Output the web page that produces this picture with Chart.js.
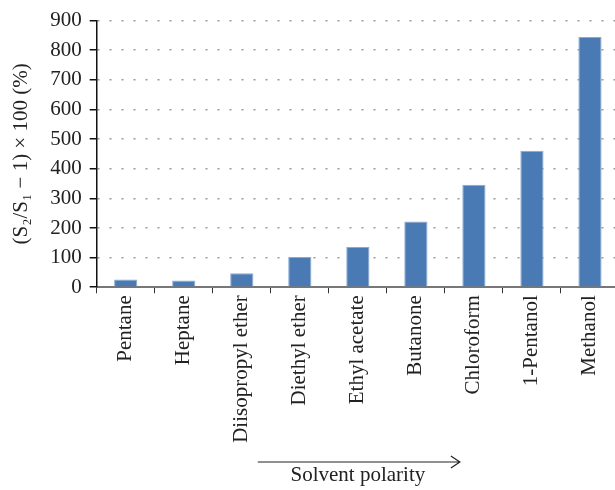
<!DOCTYPE html>
<html>
<head>
<meta charset="utf-8">
<script src="https://cdn.jsdelivr.net/npm/chart.js@4.4.0/dist/chart.umd.min.js"></script>
<style>
    html, body { margin: 0; padding: 0; background: #fff; overflow: hidden; }
    #wrap { width: 619px; height: 490px; position: relative; }
</style>
</head>
<body>
<div id="wrap"><canvas id="barChart"></canvas></div>
<script>
// 数据
const solvents = ['Pentane', 'Heptane', 'Diisopropyl ether', 'Diethyl ether', 'Ethyl acetate',
    'Butanone', 'Chloroform', '1-Pentanol', 'Methanol'];
const increase = [26, 23, 47, 102, 136, 222, 346, 461, 845];
const yTicks = [0, 100, 200, 300, 400, 500, 600, 700, 800, 900];

const serif = '"Liberation Serif", "DejaVu Serif", serif';

// 底部的箭头 (Solvent polarity)
const arrowPlugin = {
    id: 'polarityArrow',
    afterDraw(chart) {
        const ctx = chart.ctx;
        const xs = chart.scales.x;
        const y = chart.height - 28;
        const x1 = xs.getPixelForValue(2) + 16;
        const x2 = xs.getPixelForValue(5) + 44;
        ctx.save();
        ctx.strokeStyle = '#222';
        ctx.lineWidth = 1.2;
        ctx.beginPath();
        ctx.moveTo(x1, y);
        ctx.lineTo(x2, y);
        ctx.moveTo(x2 - 9, y - 6);
        ctx.lineTo(x2, y);
        ctx.lineTo(x2 - 9, y + 6);
        ctx.stroke();
        ctx.restore();
    }
};

const ctx = document.getElementById('barChart').getContext('2d');
new Chart(ctx, {
    type: 'bar',
    data: {
        labels: solvents,
        datasets: [{
            data: increase,
            backgroundColor: '#4a7ab4',
            borderColor: '#8aaad4',
            borderWidth: 1,
            barPercentage: 0.4,
            categoryPercentage: 1.0
        }]
    },
    options: {
        responsive: true,
        maintainAspectRatio: false,
        animation: false,
        layout: { padding: { top: 15, right: 0, left: 9, bottom: 2 } },
        plugins: {
            legend: { display: false },
            tooltip: { enabled: false }
        },
        scales: {
            x: {
                grid: {
                    drawOnChartArea: false,
                    drawTicks: true,
                    tickLength: 6,
                    tickColor: '#333',
                    offset: true
                },
                border: { color: '#777', width: 2 },
                ticks: {
                    color: '#222',
                    font: { family: serif, size: 21 },
                    minRotation: 90,
                    maxRotation: 90,
                    autoSkip: false,
                    padding: 2
                },
                title: {
                    display: true,
                    text: 'Solvent polarity',
                    color: '#222',
                    font: { family: serif, size: 21 },
                    padding: { top: 18, bottom: 0 }
                }
            },
            y: {
                min: 0,
                max: 900,
                afterBuildTicks(scale) {
                    scale.ticks = yTicks.map(v => ({ value: v }));
                },
                grid: {
                    color: '#999',
                    lineWidth: 1.5,
                    tickColor: '#111',
                    tickLength: 7
                },
                border: { color: '#111', width: 1.5, dash: [2, 10] },
                ticks: {
                    color: '#222',
                    font: { family: serif, size: 21 },
                    padding: 8
                },
                title: {
                    display: true,
                    text: '(S\u2082/S\u2081 \u2212 1) \u00d7 100 (%)',
                    color: '#222',
                    font: { family: serif, size: 21 },
                    padding: { top: 0, bottom: 8 }
                }
            }
        }
    },
    plugins: [arrowPlugin]
});
</script>
</body>
</html>
